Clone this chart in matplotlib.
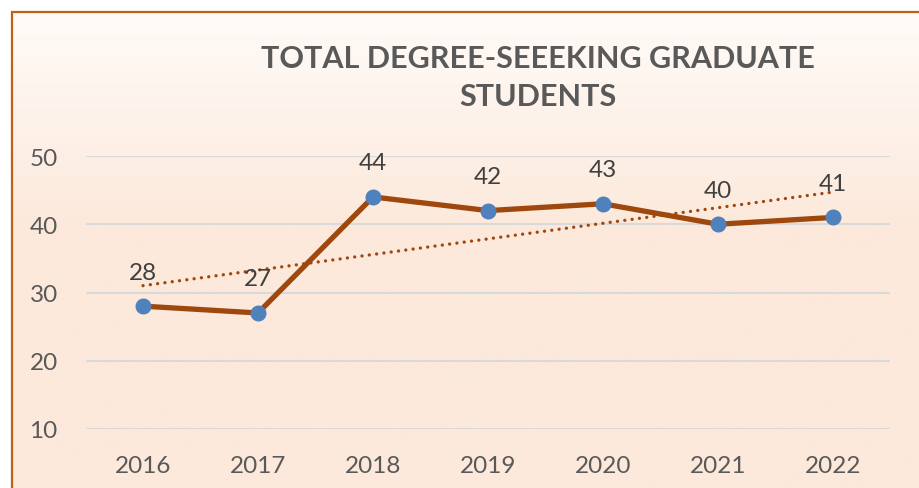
import numpy as np
import matplotlib
matplotlib.use("Agg")
import matplotlib.pyplot as plt
from matplotlib.patches import Rectangle

years = ["2016", "2017", "2018", "2019", "2020", "2021", "2022"]
students = [28, 27, 44, 42, 43, 40, 41]
y_ticks = [10, 20, 30, 40, 50]

brown = "#9E480E"
blue = "#4F81BD"
text_gray = "#595959"

plt.rcParams["font.family"] = ["Lato", "DejaVu Sans"]

fig = plt.figure(figsize=(9.2, 4.89), dpi=100)
fig.patch.set_facecolor("white")

# background panel with a soft gradient (peach -> almost white)
bg = fig.add_axes([12 / 920, 0, 1 - 12 / 920, 1 - 13 / 489], zorder=-1)
n = 256
t = np.linspace(0, 1, n)
mix = np.clip((t - 0.55) / 0.45, 0, 1)
top = np.array([252, 233, 219]) / 255
bot = np.array([255, 251, 248]) / 255
grad = top[None, :] * (1 - mix[:, None]) + bot[None, :] * mix[:, None]
bg.imshow(grad[:, None, :], aspect="auto", extent=[0, 1, 0, 1])
bg.set_xlim(0, 1)
bg.set_ylim(1, 0)
bg.axis("off")
fig.patches.append(Rectangle((12 / 920, -0.01), 1.01, 1 - 13 / 489 + 0.01,
                             transform=fig.transFigure, fill=False,
                             edgecolor="#C0601A", lw=1.6, zorder=0))

ax = fig.add_axes([85.5 / 920, 59 / 489, 805 / 920, 273 / 489])
ax.patch.set_alpha(0)
x = np.arange(len(years))

ax.plot(x, students, color=brown, lw=3.8, zorder=3, solid_joinstyle="round")
ax.plot(x, students, "o", color=blue, ms=10.5, zorder=4)

# linear trendline
k, b = np.polyfit(x, students, 1)
ax.plot(x, k * x + b, color=brown, lw=2.4, linestyle=(0, (0.01, 2.2)),
        dash_capstyle="round", zorder=2)

for xi, v in zip(x, students):
    ax.annotate(str(v), (xi, v), xytext=(0, 17), textcoords="offset points",
                ha="center", va="bottom", fontsize=17.5, color="#404040")

ax.set_xlim(-0.5, len(years) - 0.5)
ax.set_ylim(10, 50)
ax.set_yticks(y_ticks)
ax.set_xticks(x)
ax.set_xticklabels(years)
ax.grid(axis="y", color="#D9D9D9", lw=1.5)
ax.set_axisbelow(True)
for s in ax.spines.values():
    s.set_visible(False)
ax.tick_params(length=0, labelsize=17.5, colors=text_gray)
ax.tick_params(axis="y", pad=20)
ax.tick_params(axis="x", pad=19)

fig.text(538 / 920, 1 - 78 / 489, "TOTAL DEGREE-SEEEKING GRADUATE\nSTUDENTS",
         ha="center", va="center", fontsize=22, fontweight="bold",
         color=text_gray, linespacing=1.4)

fig.savefig("out.png", dpi=100)
